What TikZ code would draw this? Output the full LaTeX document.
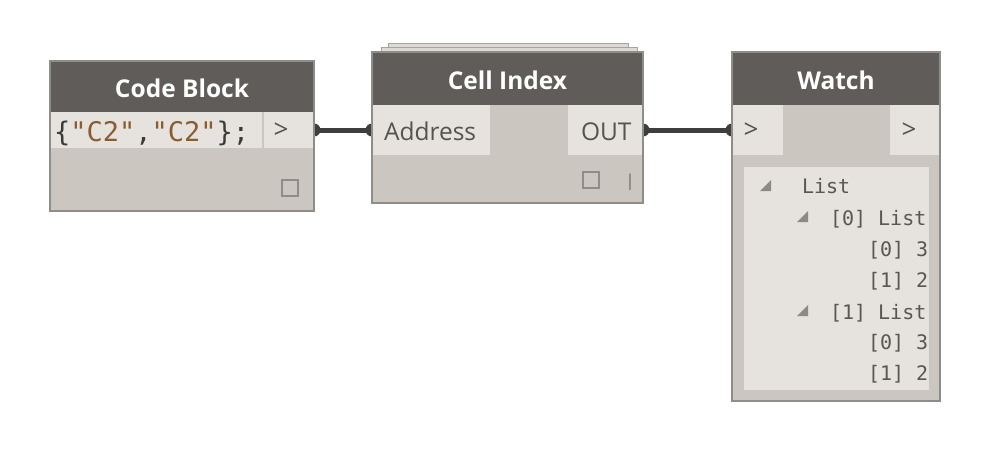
\documentclass[tikz,border=0pt]{standalone}
\usepackage{fontspec}
\setmainfont{Open Sans}
\newfontfamily\monof{DejaVu Sans Mono}
\usetikzlibrary{backgrounds}
\definecolor{hdr}{HTML}{5F5C59}
\definecolor{bodyc}{HTML}{CBC7C0}
\definecolor{lightc}{HTML}{E6E3DE}
\definecolor{bordc}{HTML}{8F8D8A}
\definecolor{connc}{HTML}{3E3E3E}
\definecolor{strc}{HTML}{8A5C30}
\definecolor{codec}{HTML}{3A3A3A}
\definecolor{lblc}{HTML}{555250}
\definecolor{listc}{HTML}{5A5652}
\definecolor{tric}{HTML}{8C8A87}
\begin{document}
\begin{tikzpicture}[x=1pt,y=-1pt,
  every node/.style={inner sep=0pt,outer sep=0pt},
  nodebox/.style={rectangle,fill=bodyc,anchor=north west},
  headbox/.style={rectangle,fill=hdr,anchor=north west},
  portbox/.style={rectangle,fill=lightc,anchor=north west},
  outline/.style={draw=bordc,line width=1.3pt},
  headtxt/.style={anchor=base,text=white,font=\fontsize{24.5}{24.5}\selectfont\bfseries},
  porttxt/.style={anchor=base west,text=lblc,font=\fontsize{24.5}{24.5}\selectfont},
  chevron/.style={anchor=center,text=lblc,font=\fontsize{26}{26}\selectfont},
  listtxt/.style={anchor=base west,text=listc,font=\monof\fontsize{20}{20}\selectfont},
  conn/.style={draw=connc,line width=5pt},
  sq/.style={draw=bordc,line width=1.5pt},
  tri/.style={fill=tric},
  layer/.style={fill=lightc!90!bordc,draw=bordc!80,line width=0.8pt}
]
\useasboundingbox (0,0) rectangle (995,458);

% ---------- Code Block ----------
\node[nodebox,minimum width=264pt,minimum height=150pt] (cb) at (50,61) {};
\node[headbox,minimum width=264pt,minimum height=51pt] (cbhead) at (50,61) {};
\node[portbox,minimum width=212pt,minimum height=36pt] (cbcode) at (50,112) {};
\node[portbox,minimum width=50pt,minimum height=36pt] (cbout) at (264,112) {};
\node[headtxt] (cbtitle) at (182,97) {Code Block};
\node[anchor=base west,font=\monof\fontsize{27}{27}\selectfont] (cbtext) at (54,141.5)
  {\textcolor{codec}{\{}\textcolor{strc}{"C2"}\textcolor{codec}{,}\textcolor{strc}{"C2"}\textcolor{codec}{\};}};
\node[chevron] (cbchev) at (281,131) {>};
\draw[sq] (282,180) rectangle (298,196);
\draw[outline] (cb.north west) rectangle (cb.south east);

% ---------- Cell Index ----------
\draw[layer] (388,43) rectangle (628,47);
\draw[layer] (381,47) rectangle (637,53);
\node[nodebox,minimum width=271pt,minimum height=151pt] (ci) at (372,52) {};
\node[headbox,minimum width=271pt,minimum height=53pt] (cihead) at (372,52) {};
\node[portbox,minimum width=118pt,minimum height=50pt] (ciaddr) at (372,105) {};
\node[portbox,minimum width=75pt,minimum height=50pt] (ciout) at (568,105) {};
\node[headtxt] (cititle) at (507.5,89) {Cell Index};
\node[porttxt] (ciaddrtxt) at (384,140) {Address};
\node[porttxt] (ciouttxt) at (581,140) {OUT};
\draw[sq] (583,172) rectangle (599,188);
\node[anchor=base,text=bordc,font=\fontsize{23}{23}\selectfont] (cilace) at (630,190) {I};
\draw[outline] (ci.north west) rectangle (ci.south east);

% ---------- Watch ----------
\node[nodebox,minimum width=208pt,minimum height=349pt] (w) at (732,52) {};
\node[headbox,minimum width=208pt,minimum height=53pt] (whead) at (732,52) {};
\node[portbox,minimum width=51pt,minimum height=50pt] (win) at (732,105) {};
\node[portbox,minimum width=50pt,minimum height=50pt] (wout) at (890,105) {};
\node[portbox,minimum width=185pt,minimum height=223pt] (wlist) at (744,167) {};
\node[headtxt] (wtitle) at (836,89) {Watch};
\node[chevron] (winchev) at (751,131) {>};
\node[chevron] (woutchev) at (909,131) {>};
\fill[tri] (760,191) -- (771,191) -- (771,180) -- cycle;
\fill[tri] (797,222) -- (808,222) -- (808,211) -- cycle;
\fill[tri] (797,316) -- (808,316) -- (808,305) -- cycle;
\node[listtxt] (l0) at (802,193) {List};
\node[listtxt] (l1) at (830,225) {[0] List};
\node[listtxt] (l2) at (868,256) {[0] 3};
\node[listtxt] (l3) at (868,287) {[1] 2};
\node[listtxt] (l4) at (830,319) {[1] List};
\node[listtxt] (l5) at (868,349) {[0] 3};
\node[listtxt] (l6) at (868,380) {[1] 2};
\draw[outline] (w.north west) rectangle (w.south east);

% ---------- Connectors ----------
\begin{scope}[on background layer]
\fill[white] (0,0) rectangle (995,458);
\draw[conn] (cbout.east) -- (ciaddr.west);
\fill[connc] (cbout.east) circle[radius=6.5pt];
\fill[connc] (ciaddr.west) circle[radius=6.5pt];
\draw[conn] (ciout.east) -- (win.west);
\fill[connc] (ciout.east) circle[radius=6.5pt];
\fill[connc] (win.west) circle[radius=6.5pt];
\end{scope}
\end{tikzpicture}
\end{document}
